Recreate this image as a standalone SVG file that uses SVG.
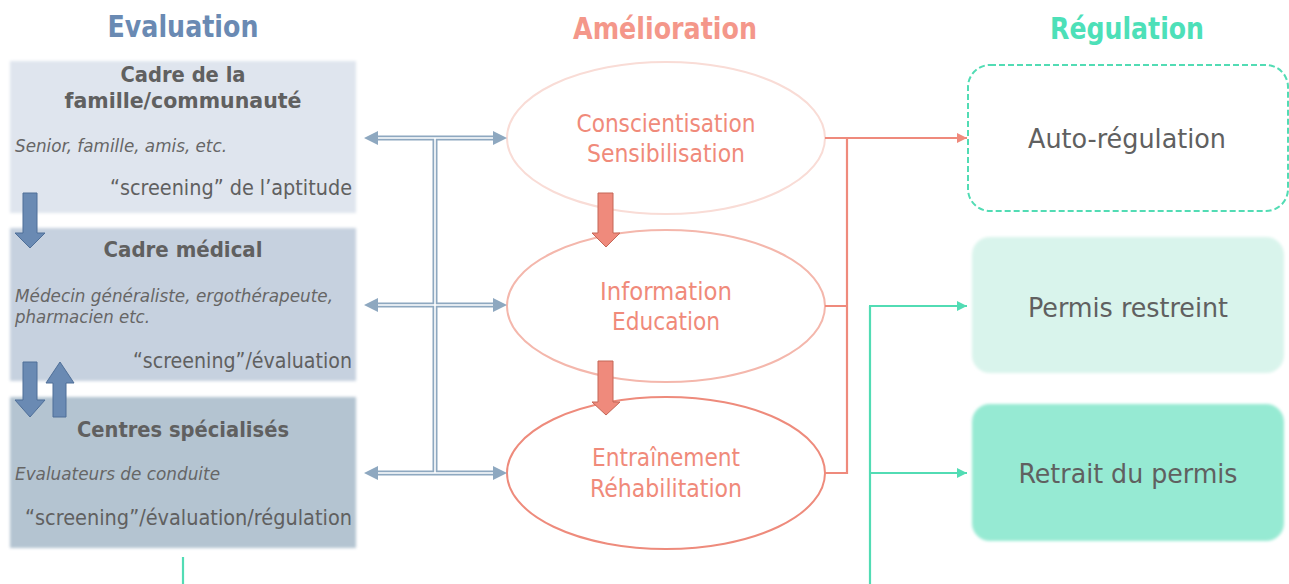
<svg xmlns="http://www.w3.org/2000/svg" width="1289" height="584" viewBox="0 0 1289 584">
<defs>
<style>
text{font-family:"DejaVu Sans","Liberation Sans",sans-serif;font-stretch:condensed}
.hd{font-size:30px;font-weight:bold;text-anchor:middle}
.bt{font-size:21px;font-weight:bold;fill:#606060;text-anchor:middle}
.it{font-size:18px;font-style:italic;fill:#666}
.sc{font-size:21px;fill:#606060;text-anchor:end}
.el{font-size:24px;fill:#f08a7a;text-anchor:middle}
.rt{font-size:27px;fill:#606060;text-anchor:middle}
.barr{fill:#6a8ab3;stroke:#4f6f98;stroke-width:1}
.sarr{fill:#ef8a7c;stroke:#c46656;stroke-width:1}
.dbl{stroke:#8ea8c0;stroke-width:5;fill:none}
.dbi{stroke:#fff;stroke-width:1.6;fill:none}
.sal{stroke:#ef8a7c;stroke-width:2.2;fill:none}
.tea{stroke:#52dcb4;stroke-width:2.2;fill:none}
</style>
<filter id="soft" x="-5%" y="-5%" width="110%" height="110%"><feGaussianBlur stdDeviation="1.5"/></filter>
<marker id="ms" viewBox="0 0 10 10" refX="10" refY="5" markerWidth="10" markerHeight="10" markerUnits="userSpaceOnUse" orient="auto"><path d="M0,0 L10,5 L0,10 z" fill="#ef8a7c"/></marker>
<marker id="mt" viewBox="0 0 10 10" refX="10" refY="5" markerWidth="10" markerHeight="10" markerUnits="userSpaceOnUse" orient="auto"><path d="M0,0 L10,5 L0,10 z" fill="#52dcb4"/></marker>
</defs>
<rect width="1289" height="584" fill="#fff"/>

<g id="headers">
<text class="hd" x="183" y="37" fill="#6a8ab3" textLength="151" lengthAdjust="spacingAndGlyphs">Evaluation</text>
<text class="hd" x="665" y="39" fill="#f4978a" textLength="184" lengthAdjust="spacingAndGlyphs">Amélioration</text>
<text class="hd" x="1127" y="39" fill="#4de0b8" textLength="154" lengthAdjust="spacingAndGlyphs">Régulation</text>
</g>

<g id="node-famille">
<rect x="10" y="61" width="346" height="152" fill="#dfe5ee" filter="url(#soft)"/>
<text class="bt" x="183" y="82" textLength="125" lengthAdjust="spacingAndGlyphs">Cadre de la</text>
<text class="bt" x="183" y="108" textLength="237" lengthAdjust="spacingAndGlyphs">famille/communauté</text>
<text class="it" x="15" y="152" textLength="212" lengthAdjust="spacingAndGlyphs">Senior, famille, amis, etc.</text>
<text class="sc" x="352" y="195" textLength="242" lengthAdjust="spacingAndGlyphs">“screening” de l’aptitude</text>
</g>

<g id="node-medical">
<rect x="10" y="228" width="346" height="153" fill="#c6d1df" filter="url(#soft)"/>
<text class="bt" x="183" y="257" textLength="159" lengthAdjust="spacingAndGlyphs">Cadre médical</text>
<text class="it" x="15" y="302" textLength="318" lengthAdjust="spacingAndGlyphs">Médecin généraliste, ergothérapeute,</text>
<text class="it" x="15" y="323" textLength="135" lengthAdjust="spacingAndGlyphs">pharmacien etc.</text>
<text class="sc" x="352" y="368" textLength="219" lengthAdjust="spacingAndGlyphs">“screening”/évaluation</text>
</g>

<g id="node-centres">
<rect x="10" y="397" width="346" height="151" fill="#b4c4d1" filter="url(#soft)"/>
<text class="bt" x="183" y="437" textLength="212" lengthAdjust="spacingAndGlyphs">Centres spécialisés</text>
<text class="it" x="15" y="480" textLength="205" lengthAdjust="spacingAndGlyphs">Evaluateurs de conduite</text>
<text class="sc" x="352" y="525" textLength="327" lengthAdjust="spacingAndGlyphs">“screening”/évaluation/régulation</text>
</g>

<g id="node-conscientisation">
<ellipse cx="666" cy="138" rx="159" ry="76" fill="none" stroke="#f9dcd6" stroke-width="2"/>
<text class="el" x="666" y="132" textLength="179" lengthAdjust="spacingAndGlyphs">Conscientisation</text>
<text class="el" x="666" y="162" textLength="158" lengthAdjust="spacingAndGlyphs">Sensibilisation</text>
</g>

<g id="node-information">
<ellipse cx="666" cy="306" rx="159" ry="76" fill="none" stroke="#f4b7ac" stroke-width="2"/>
<text class="el" x="666" y="300" textLength="132" lengthAdjust="spacingAndGlyphs">Information</text>
<text class="el" x="666" y="330" textLength="108" lengthAdjust="spacingAndGlyphs">Education</text>
</g>

<g id="node-entrainement">
<ellipse cx="666" cy="473" rx="159" ry="76" fill="none" stroke="#ee8b7c" stroke-width="2"/>
<text class="el" x="666" y="466" textLength="148" lengthAdjust="spacingAndGlyphs">Entraînement</text>
<text class="el" x="666" y="497" textLength="152" lengthAdjust="spacingAndGlyphs">Réhabilitation</text>
</g>

<g id="node-auto">
<rect x="968" y="65" width="320" height="146" rx="22" fill="#fff" stroke="#52dcb4" stroke-width="2" stroke-dasharray="6,3"/>
<text class="rt" x="1127" y="148" textLength="198" lengthAdjust="spacingAndGlyphs">Auto-régulation</text>
</g>

<g id="node-restreint">
<rect x="972" y="237" width="312" height="136" rx="18" fill="#d9f4ec" filter="url(#soft)"/>
<text class="rt" x="1128" y="317" textLength="200" lengthAdjust="spacingAndGlyphs">Permis restreint</text>
</g>

<g id="node-retrait">
<rect x="972" y="404" width="312" height="137" rx="18" fill="#96ead3" filter="url(#soft)"/>
<text class="rt" x="1128" y="483" textLength="219" lengthAdjust="spacingAndGlyphs">Retrait du permis</text>
</g>

<g id="connectors">
<path class="barr" d="M23,193 H37 V233 H45 L30,248 L15,233 H23 Z"/>
<path class="barr" d="M23,362 H37 V400 H45 L30,417 L15,400 H23 Z"/>
<path class="barr" d="M53,417 H66 V383 H74 L60,362 L46,383 H53 Z"/>
<path class="sarr" d="M598,193 H613 V233 H620 L606,247 L592,233 H598 Z"/>
<path class="sarr" d="M598,361 H613 V402 H620 L606,415 L592,402 H598 Z"/>
<path class="dbl" d="M435,138 V473"/>
<path class="dbl" d="M376,138 H496 M376,305 H496 M376,473 H496"/>
<path class="dbi" d="M435,138 V473"/>
<path class="dbi" d="M376,138 H496 M376,305 H496 M376,473 H496"/>
<path d="M364,138 L378,131 L378,145 Z M507,138 L493,131 L493,145 Z M364,305 L378,298 L378,312 Z M507,305 L493,298 L493,312 Z M364,473 L378,466 L378,480 Z M507,473 L493,466 L493,480 Z" fill="#8ea8c0"/>
<path class="sal" d="M825,138 H847 V473 H825 M825,306 H847"/>
<path class="sal" d="M847,138 H967" marker-end="url(#ms)"/>
<path class="tea" d="M870,584 V306"/>
<path class="tea" d="M869,306 H967" marker-end="url(#mt)"/>
<path class="tea" d="M870,473 H967" marker-end="url(#mt)"/>
<path class="tea" d="M183,557 V584"/>
</g>
</svg>
